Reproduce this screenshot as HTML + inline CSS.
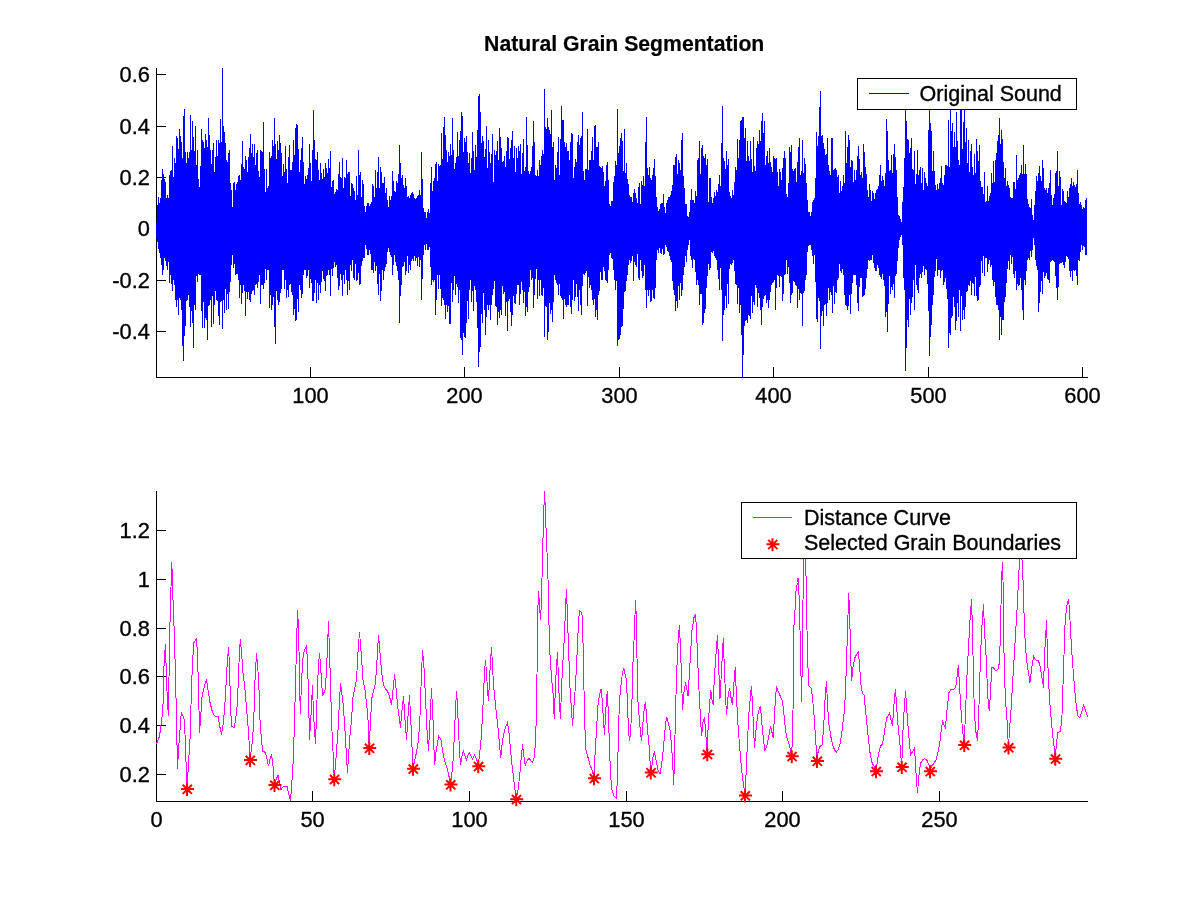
<!DOCTYPE html>
<html lang="en"><head><meta charset="utf-8"><title>Natural Grain Segmentation</title>
<style>html,body{margin:0;padding:0;background:#fff;}body{width:1201px;height:900px;overflow:hidden;}svg{display:block;}text{font-family:"Liberation Sans",Arial,Helvetica,sans-serif;fill:#000;stroke:#000;stroke-width:0.35px;}.tk{font-size:21.8px;}.ttl{font-size:21.2px;font-weight:bold;stroke-width:0.2px;}.lg{font-size:21.5px;}</style></head><body>
<svg width="1201" height="900" viewBox="0 0 1201 900">
<rect x="0" y="0" width="1201" height="900" fill="#fff"/>
<g shape-rendering="crispEdges" fill="#000"><rect x="156" y="68" width="1" height="310"/><rect x="156" y="377" width="932" height="1"/><rect x="156" y="74" width="10" height="1"/><rect x="156" y="126" width="10" height="1"/><rect x="156" y="177" width="10" height="1"/><rect x="156" y="228" width="10" height="1"/><rect x="156" y="280" width="10" height="1"/><rect x="156" y="331" width="10" height="1"/><rect x="310" y="367" width="1" height="10"/><rect x="464" y="367" width="1" height="10"/><rect x="619" y="367" width="1" height="10"/><rect x="773" y="367" width="1" height="10"/><rect x="928" y="367" width="1" height="10"/><rect x="1082" y="367" width="1" height="10"/></g>
<path shape-rendering="crispEdges" fill="#0000ff" d="M156 223V223 h1V205 h1V197 h1V203 h1V198 h1V180 h1V169 h1V174 h1V179 h1V182 h1V198 h1V195 h1V198 h1V175 h1V171 h1V170 h1V146 h1V177 h1V158 h1V163 h1V136 h1V138 h1V149 h1V129 h1V136 h1V142 h1V158 h1V116 h1V109 h1V152 h1V163 h1V152 h1V158 h1V152 h1V115 h1V150 h1V121 h1V137 h1V151 h1V126 h1V165 h1V150 h1V179 h1V187 h1V166 h1V129 h1V140 h1V142 h1V148 h1V134 h1V140 h1V147 h1V118 h1V135 h1V150 h1V164 h1V150 h1V143 h1V172 h1V157 h1V140 h1V156 h1V140 h1V143 h1V119 h1V142 h1V68 h1V126 h1V132 h1V143 h1V160 h1V162 h1V153 h1V150 h1V183 h1V190 h1V207 h1V183 h1V182 h1V190 h1V184 h1V182 h1V176 h1V175 h1V180 h1V164 h1V141 h1V167 h1V169 h1V156 h1V160 h1V172 h1V157 h1V148 h1V134 h1V153 h1V144 h1V157 h1V144 h1V165 h1V153 h1V150 h1V171 h1V177 h1V150 h1V151 h1V152 h1V122 h1V169 h1V192 h1V169 h1V188 h1V186 h1V152 h1V158 h1V156 h1V140 h1V146 h1V118 h1V144 h1V159 h1V141 h1V150 h1V135 h1V143 h1V153 h1V176 h1V164 h1V172 h1V146 h1V169 h1V183 h1V157 h1V145 h1V170 h1V170 h1V162 h1V140 h1V155 h1V128 h1V124 h1V125 h1V149 h1V172 h1V160 h1V148 h1V137 h1V162 h1V184 h1V176 h1V179 h1V175 h1V168 h1V144 h1V163 h1V181 h1V150 h1V110 h1V140 h1V159 h1V160 h1V152 h1V170 h1V180 h1V163 h1V173 h1V179 h1V169 h1V177 h1V163 h1V168 h1V173 h1V159 h1V168 h1V151 h1V187 h1V181 h1V180 h1V194 h1V192 h1V189 h1V190 h1V174 h1V162 h1V177 h1V178 h1V158 h1V188 h1V177 h1V178 h1V160 h1V174 h1V172 h1V172 h1V196 h1V183 h1V184 h1V188 h1V191 h1V200 h1V176 h1V195 h1V150 h1V175 h1V172 h1V197 h1V180 h1V184 h1V206 h1V212 h1V206 h1V203 h1V203 h1V206 h1V204 h1V202 h1V184 h1V186 h1V197 h1V170 h1V188 h1V172 h1V157 h1V188 h1V167 h1V172 h1V183 h1V183 h1V177 h1V193 h1V188 h1V200 h1V207 h1V196 h1V200 h1V196 h1V171 h1V181 h1V191 h1V192 h1V181 h1V183 h1V174 h1V145 h1V163 h1V178 h1V175 h1V185 h1V188 h1V178 h1V186 h1V197 h1V196 h1V198 h1V195 h1V193 h1V192 h1V194 h1V198 h1V199 h1V198 h1V196 h1V195 h1V190 h1V195 h1V152 h1V179 h1V208 h1V212 h1V212 h1V218 h1V212 h1V209 h1V213 h1V183 h1V167 h1V191 h1V181 h1V178 h1V164 h1V162 h1V181 h1V164 h1V166 h1V165 h1V133 h1V159 h1V127 h1V117 h1V135 h1V150 h1V162 h1V152 h1V156 h1V144 h1V155 h1V118 h1V150 h1V169 h1V163 h1V157 h1V132 h1V156 h1V140 h1V131 h1V112 h1V116 h1V152 h1V138 h1V142 h1V136 h1V152 h1V163 h1V153 h1V173 h1V158 h1V132 h1V151 h1V170 h1V145 h1V157 h1V130 h1V96 h1V94 h1V112 h1V143 h1V136 h1V141 h1V157 h1V149 h1V126 h1V168 h1V140 h1V152 h1V163 h1V154 h1V134 h1V182 h1V150 h1V155 h1V151 h1V141 h1V160 h1V128 h1V137 h1V148 h1V162 h1V161 h1V156 h1V167 h1V151 h1V137 h1V138 h1V159 h1V148 h1V140 h1V131 h1V158 h1V146 h1V172 h1V148 h1V158 h1V146 h1V151 h1V144 h1V174 h1V153 h1V139 h1V171 h1V167 h1V117 h1V145 h1V171 h1V174 h1V171 h1V167 h1V146 h1V121 h1V142 h1V175 h1V176 h1V170 h1V176 h1V160 h1V165 h1V156 h1V150 h1V154 h1V89 h1V127 h1V129 h1V118 h1V127 h1V130 h1V134 h1V110 h1V147 h1V142 h1V180 h1V165 h1V168 h1V152 h1V137 h1V175 h1V139 h1V106 h1V120 h1V120 h1V142 h1V147 h1V143 h1V151 h1V151 h1V160 h1V142 h1V133 h1V134 h1V178 h1V167 h1V159 h1V162 h1V142 h1V135 h1V145 h1V138 h1V136 h1V112 h1V171 h1V180 h1V169 h1V169 h1V129 h1V170 h1V160 h1V160 h1V151 h1V137 h1V160 h1V126 h1V125 h1V147 h1V147 h1V142 h1V166 h1V167 h1V168 h1V166 h1V172 h1V186 h1V181 h1V165 h1V162 h1V180 h1V204 h1V206 h1V201 h1V201 h1V182 h1V176 h1V161 h1V165 h1V109 h1V153 h1V146 h1V138 h1V133 h1V141 h1V171 h1V129 h1V173 h1V163 h1V179 h1V184 h1V195 h1V197 h1V197 h1V202 h1V193 h1V189 h1V193 h1V198 h1V203 h1V187 h1V183 h1V204 h1V181 h1V185 h1V176 h1V186 h1V142 h1V117 h1V168 h1V175 h1V167 h1V178 h1V180 h1V175 h1V168 h1V159 h1V176 h1V197 h1V207 h1V211 h1V209 h1V204 h1V203 h1V203 h1V194 h1V207 h1V213 h1V203 h1V200 h1V197 h1V197 h1V195 h1V191 h1V185 h1V165 h1V165 h1V157 h1V154 h1V174 h1V160 h1V163 h1V170 h1V140 h1V133 h1V176 h1V188 h1V204 h1V204 h1V216 h1V217 h1V212 h1V200 h1V189 h1V200 h1V200 h1V203 h1V191 h1V196 h1V160 h1V158 h1V141 h1V174 h1V148 h1V145 h1V156 h1V158 h1V154 h1V165 h1V159 h1V202 h1V178 h1V178 h1V197 h1V203 h1V198 h1V192 h1V196 h1V190 h1V192 h1V184 h1V175 h1V186 h1V143 h1V106 h1V158 h1V161 h1V169 h1V151 h1V165 h1V159 h1V192 h1V196 h1V198 h1V190 h1V195 h1V182 h1V167 h1V170 h1V139 h1V158 h1V140 h1V121 h1V120 h1V117 h1V117 h1V138 h1V128 h1V161 h1V141 h1V156 h1V161 h1V141 h1V159 h1V172 h1V137 h1V166 h1V171 h1V148 h1V141 h1V144 h1V130 h1V141 h1V121 h1V113 h1V133 h1V121 h1V165 h1V156 h1V151 h1V163 h1V148 h1V162 h1V167 h1V172 h1V156 h1V158 h1V159 h1V158 h1V172 h1V186 h1V169 h1V172 h1V180 h1V168 h1V158 h1V151 h1V158 h1V194 h1V197 h1V183 h1V147 h1V152 h1V145 h1V169 h1V171 h1V169 h1V168 h1V182 h1V162 h1V147 h1V138 h1V175 h1V171 h1V140 h1V173 h1V158 h1V164 h1V183 h1V200 h1V212 h1V212 h1V216 h1V212 h1V202 h1V200 h1V198 h1V178 h1V132 h1V146 h1V136 h1V107 h1V91 h1V136 h1V135 h1V143 h1V149 h1V155 h1V154 h1V138 h1V165 h1V171 h1V175 h1V138 h1V138 h1V170 h1V169 h1V168 h1V170 h1V177 h1V175 h1V193 h1V181 h1V191 h1V186 h1V175 h1V183 h1V131 h1V163 h1V147 h1V135 h1V140 h1V167 h1V160 h1V161 h1V182 h1V170 h1V180 h1V170 h1V156 h1V146 h1V159 h1V175 h1V172 h1V178 h1V144 h1V152 h1V167 h1V174 h1V190 h1V197 h1V184 h1V190 h1V201 h1V191 h1V193 h1V199 h1V193 h1V190 h1V189 h1V186 h1V175 h1V165 h1V181 h1V176 h1V180 h1V186 h1V173 h1V119 h1V131 h1V160 h1V171 h1V170 h1V155 h1V173 h1V154 h1V144 h1V157 h1V170 h1V197 h1V215 h1V216 h1V219 h1V222 h1V202 h1V187 h1V158 h1V110 h1V121 h1V139 h1V140 h1V153 h1V148 h1V138 h1V169 h1V170 h1V151 h1V184 h1V174 h1V150 h1V175 h1V170 h1V167 h1V183 h1V168 h1V190 h1V172 h1V178 h1V183 h1V186 h1V130 h1V110 h1V123 h1V131 h1V171 h1V151 h1V171 h1V185 h1V190 h1V184 h1V189 h1V183 h1V178 h1V166 h1V183 h1V185 h1V175 h1V165 h1V165 h1V166 h1V120 h1V167 h1V108 h1V131 h1V123 h1V147 h1V132 h1V147 h1V112 h1V141 h1V160 h1V165 h1V108 h1V108 h1V149 h1V122 h1V108 h1V142 h1V128 h1V163 h1V140 h1V172 h1V151 h1V144 h1V167 h1V175 h1V154 h1V173 h1V139 h1V151 h1V161 h1V145 h1V181 h1V187 h1V187 h1V194 h1V172 h1V202 h1V201 h1V186 h1V201 h1V196 h1V193 h1V173 h1V183 h1V161 h1V182 h1V160 h1V153 h1V141 h1V135 h1V118 h1V144 h1V130 h1V139 h1V162 h1V178 h1V168 h1V186 h1V181 h1V185 h1V188 h1V197 h1V198 h1V198 h1V182 h1V182 h1V189 h1V155 h1V180 h1V178 h1V175 h1V173 h1V165 h1V174 h1V145 h1V174 h1V164 h1V174 h1V199 h1V204 h1V207 h1V208 h1V199 h1V215 h1V220 h1V205 h1V191 h1V176 h1V181 h1V173 h1V166 h1V176 h1V181 h1V160 h1V168 h1V188 h1V190 h1V188 h1V193 h1V188 h1V183 h1V170 h1V195 h1V205 h1V198 h1V194 h1V173 h1V171 h1V151 h1V186 h1V171 h1V177 h1V205 h1V189 h1V191 h1V201 h1V202 h1V203 h1V191 h1V197 h1V188 h1V184 h1V178 h1V186 h1V182 h1V185 h1V187 h1V184 h1V170 h1V193 h1V204 h1V202 h1V205 h1V209 h1V207 h1V208 h1V200 h1V198 h1V255 h-1V255 h-1V247 h-1V246 h-1V250 h-1V245 h-1V252 h-1V261 h-1V260 h-1V285 h-1V276 h-1V270 h-1V271 h-1V270 h-1V281 h-1V271 h-1V277 h-1V271 h-1V259 h-1V257 h-1V256 h-1V262 h-1V268 h-1V265 h-1V262 h-1V263 h-1V263 h-1V264 h-1V287 h-1V300 h-1V288 h-1V276 h-1V262 h-1V261 h-1V260 h-1V261 h-1V262 h-1V283 h-1V280 h-1V279 h-1V273 h-1V276 h-1V278 h-1V272 h-1V294 h-1V281 h-1V292 h-1V303 h-1V312 h-1V270 h-1V266 h-1V260 h-1V245 h-1V238 h-1V250 h-1V257 h-1V251 h-1V260 h-1V258 h-1V260 h-1V271 h-1V285 h-1V280 h-1V320 h-1V310 h-1V290 h-1V278 h-1V285 h-1V286 h-1V284 h-1V290 h-1V271 h-1V278 h-1V274 h-1V257 h-1V264 h-1V255 h-1V270 h-1V261 h-1V269 h-1V283 h-1V297 h-1V302 h-1V320 h-1V320 h-1V335 h-1V317 h-1V340 h-1V310 h-1V305 h-1V305 h-1V297 h-1V282 h-1V286 h-1V280 h-1V265 h-1V267 h-1V260 h-1V264 h-1V272 h-1V258 h-1V258 h-1V276 h-1V256 h-1V273 h-1V261 h-1V285 h-1V287 h-1V300 h-1V301 h-1V296 h-1V277 h-1V296 h-1V284 h-1V283 h-1V295 h-1V281 h-1V286 h-1V285 h-1V291 h-1V292 h-1V307 h-1V319 h-1V310 h-1V320 h-1V296 h-1V331 h-1V290 h-1V317 h-1V303 h-1V321 h-1V330 h-1V307 h-1V297 h-1V316 h-1V318 h-1V335 h-1V333 h-1V348 h-1V299 h-1V289 h-1V278 h-1V282 h-1V285 h-1V270 h-1V271 h-1V278 h-1V270 h-1V270 h-1V276 h-1V259 h-1V271 h-1V277 h-1V295 h-1V305 h-1V325 h-1V337 h-1V356 h-1V311 h-1V284 h-1V270 h-1V269 h-1V275 h-1V266 h-1V272 h-1V278 h-1V274 h-1V278 h-1V293 h-1V290 h-1V285 h-1V265 h-1V310 h-1V280 h-1V297 h-1V303 h-1V315 h-1V299 h-1V327 h-1V320 h-1V348 h-1V371 h-1V290 h-1V278 h-1V245 h-1V235 h-1V237 h-1V240 h-1V248 h-1V261 h-1V274 h-1V276 h-1V298 h-1V284 h-1V290 h-1V287 h-1V294 h-1V276 h-1V304 h-1V332 h-1V312 h-1V317 h-1V286 h-1V280 h-1V274 h-1V279 h-1V277 h-1V275 h-1V268 h-1V265 h-1V271 h-1V271 h-1V268 h-1V263 h-1V255 h-1V260 h-1V260 h-1V261 h-1V260 h-1V269 h-1V278 h-1V289 h-1V295 h-1V296 h-1V297 h-1V278 h-1V278 h-1V287 h-1V311 h-1V303 h-1V285 h-1V275 h-1V275 h-1V275 h-1V283 h-1V294 h-1V314 h-1V295 h-1V306 h-1V310 h-1V306 h-1V305 h-1V295 h-1V275 h-1V269 h-1V273 h-1V271 h-1V264 h-1V278 h-1V280 h-1V293 h-1V292 h-1V304 h-1V286 h-1V313 h-1V295 h-1V292 h-1V300 h-1V288 h-1V303 h-1V316 h-1V304 h-1V305 h-1V326 h-1V311 h-1V316 h-1V349 h-1V301 h-1V298 h-1V322 h-1V319 h-1V282 h-1V255 h-1V264 h-1V256 h-1V250 h-1V245 h-1V245 h-1V246 h-1V252 h-1V275 h-1V280 h-1V291 h-1V293 h-1V326 h-1V294 h-1V293 h-1V300 h-1V289 h-1V308 h-1V286 h-1V285 h-1V282 h-1V281 h-1V293 h-1V295 h-1V303 h-1V283 h-1V267 h-1V274 h-1V260 h-1V274 h-1V275 h-1V294 h-1V301 h-1V277 h-1V276 h-1V287 h-1V276 h-1V275 h-1V288 h-1V310 h-1V280 h-1V282 h-1V283 h-1V285 h-1V292 h-1V300 h-1V308 h-1V300 h-1V303 h-1V295 h-1V296 h-1V299 h-1V307 h-1V325 h-1V310 h-1V298 h-1V293 h-1V307 h-1V288 h-1V285 h-1V305 h-1V302 h-1V313 h-1V296 h-1V319 h-1V316 h-1V315 h-1V323 h-1V320 h-1V321 h-1V326 h-1V355 h-1V378 h-1V335 h-1V305 h-1V313 h-1V288 h-1V304 h-1V285 h-1V284 h-1V271 h-1V260 h-1V263 h-1V265 h-1V264 h-1V269 h-1V304 h-1V284 h-1V308 h-1V296 h-1V310 h-1V315 h-1V341 h-1V290 h-1V268 h-1V290 h-1V279 h-1V270 h-1V260 h-1V258 h-1V256 h-1V251 h-1V253 h-1V252 h-1V268 h-1V270 h-1V264 h-1V276 h-1V288 h-1V309 h-1V313 h-1V323 h-1V325 h-1V294 h-1V294 h-1V305 h-1V285 h-1V280 h-1V285 h-1V272 h-1V260 h-1V259 h-1V268 h-1V260 h-1V256 h-1V240 h-1V245 h-1V250 h-1V262 h-1V256 h-1V267 h-1V275 h-1V290 h-1V296 h-1V283 h-1V300 h-1V286 h-1V308 h-1V301 h-1V311 h-1V295 h-1V290 h-1V281 h-1V262 h-1V260 h-1V256 h-1V252 h-1V251 h-1V247 h-1V245 h-1V254 h-1V255 h-1V249 h-1V254 h-1V253 h-1V248 h-1V253 h-1V250 h-1V260 h-1V288 h-1V299 h-1V298 h-1V290 h-1V301 h-1V302 h-1V290 h-1V296 h-1V290 h-1V308 h-1V290 h-1V265 h-1V276 h-1V278 h-1V271 h-1V260 h-1V280 h-1V278 h-1V254 h-1V267 h-1V265 h-1V262 h-1V281 h-1V256 h-1V261 h-1V263 h-1V260 h-1V265 h-1V275 h-1V281 h-1V291 h-1V292 h-1V309 h-1V326 h-1V327 h-1V335 h-1V339 h-1V340 h-1V346 h-1V281 h-1V290 h-1V280 h-1V270 h-1V259 h-1V258 h-1V253 h-1V255 h-1V270 h-1V283 h-1V281 h-1V280 h-1V271 h-1V267 h-1V280 h-1V280 h-1V272 h-1V291 h-1V295 h-1V320 h-1V310 h-1V317 h-1V299 h-1V305 h-1V300 h-1V290 h-1V285 h-1V288 h-1V277 h-1V306 h-1V271 h-1V273 h-1V275 h-1V274 h-1V286 h-1V315 h-1V305 h-1V290 h-1V311 h-1V297 h-1V284 h-1V297 h-1V301 h-1V280 h-1V300 h-1V314 h-1V307 h-1V295 h-1V305 h-1V305 h-1V307 h-1V305 h-1V299 h-1V319 h-1V300 h-1V298 h-1V296 h-1V284 h-1V295 h-1V285 h-1V283 h-1V280 h-1V275 h-1V302 h-1V322 h-1V310 h-1V314 h-1V303 h-1V332 h-1V340 h-1V307 h-1V306 h-1V337 h-1V288 h-1V296 h-1V295 h-1V280 h-1V296 h-1V280 h-1V299 h-1V269 h-1V279 h-1V295 h-1V308 h-1V278 h-1V280 h-1V270 h-1V287 h-1V292 h-1V312 h-1V307 h-1V316 h-1V292 h-1V303 h-1V290 h-1V282 h-1V294 h-1V305 h-1V285 h-1V285 h-1V294 h-1V304 h-1V303 h-1V296 h-1V315 h-1V326 h-1V312 h-1V299 h-1V301 h-1V331 h-1V302 h-1V316 h-1V292 h-1V294 h-1V286 h-1V315 h-1V310 h-1V318 h-1V312 h-1V325 h-1V307 h-1V306 h-1V281 h-1V289 h-1V295 h-1V305 h-1V320 h-1V305 h-1V310 h-1V305 h-1V317 h-1V335 h-1V310 h-1V293 h-1V323 h-1V314 h-1V347 h-1V352 h-1V367 h-1V328 h-1V302 h-1V290 h-1V286 h-1V311 h-1V291 h-1V302 h-1V280 h-1V290 h-1V319 h-1V301 h-1V323 h-1V338 h-1V337 h-1V333 h-1V355 h-1V340 h-1V338 h-1V290 h-1V303 h-1V287 h-1V284 h-1V295 h-1V276 h-1V290 h-1V302 h-1V283 h-1V324 h-1V324 h-1V306 h-1V312 h-1V305 h-1V319 h-1V305 h-1V300 h-1V298 h-1V306 h-1V289 h-1V275 h-1V289 h-1V275 h-1V300 h-1V315 h-1V280 h-1V282 h-1V280 h-1V285 h-1V267 h-1V247 h-1V250 h-1V250 h-1V244 h-1V250 h-1V245 h-1V255 h-1V279 h-1V300 h-1V260 h-1V267 h-1V257 h-1V266 h-1V258 h-1V261 h-1V256 h-1V261 h-1V259 h-1V261 h-1V270 h-1V265 h-1V273 h-1V256 h-1V271 h-1V275 h-1V262 h-1V266 h-1V267 h-1V285 h-1V296 h-1V323 h-1V280 h-1V271 h-1V266 h-1V262 h-1V255 h-1V265 h-1V275 h-1V257 h-1V255 h-1V252 h-1V248 h-1V252 h-1V264 h-1V267 h-1V271 h-1V280 h-1V270 h-1V291 h-1V301 h-1V274 h-1V295 h-1V284 h-1V266 h-1V271 h-1V262 h-1V273 h-1V270 h-1V270 h-1V254 h-1V250 h-1V255 h-1V255 h-1V249 h-1V245 h-1V258 h-1V258 h-1V261 h-1V266 h-1V284 h-1V285 h-1V273 h-1V280 h-1V281 h-1V264 h-1V280 h-1V278 h-1V260 h-1V271 h-1V265 h-1V290 h-1V281 h-1V295 h-1V280 h-1V270 h-1V284 h-1V275 h-1V296 h-1V280 h-1V274 h-1V286 h-1V290 h-1V278 h-1V265 h-1V267 h-1V262 h-1V268 h-1V276 h-1V269 h-1V296 h-1V275 h-1V270 h-1V275 h-1V276 h-1V291 h-1V281 h-1V279 h-1V271 h-1V282 h-1V293 h-1V285 h-1V300 h-1V283 h-1V303 h-1V280 h-1V293 h-1V301 h-1V301 h-1V283 h-1V279 h-1V288 h-1V270 h-1V276 h-1V278 h-1V270 h-1V270 h-1V275 h-1V294 h-1V298 h-1V290 h-1V285 h-1V312 h-1V299 h-1V320 h-1V321 h-1V309 h-1V315 h-1V295 h-1V292 h-1V284 h-1V285 h-1V297 h-1V290 h-1V298 h-1V280 h-1V289 h-1V270 h-1V270 h-1V289 h-1V293 h-1V302 h-1V305 h-1V300 h-1V291 h-1V344 h-1V327 h-1V297 h-1V305 h-1V310 h-1V295 h-1V308 h-1V270 h-1V270 h-1V280 h-1V269 h-1V283 h-1V289 h-1V285 h-1V285 h-1V304 h-1V275 h-1V282 h-1V288 h-1V284 h-1V285 h-1V295 h-1V290 h-1V291 h-1V294 h-1V302 h-1V300 h-1V292 h-1V299 h-1V292 h-1V316 h-1V291 h-1V285 h-1V293 h-1V304 h-1V285 h-1V298 h-1V280 h-1V274 h-1V274 h-1V275 h-1V264 h-1V268 h-1V255 h-1V265 h-1V282 h-1V292 h-1V309 h-1V294 h-1V310 h-1V289 h-1V313 h-1V300 h-1V329 h-1V301 h-1V302 h-1V325 h-1V316 h-1V301 h-1V300 h-1V291 h-1V305 h-1V324 h-1V296 h-1V327 h-1V300 h-1V305 h-1V306 h-1V340 h-1V320 h-1V318 h-1V328 h-1V302 h-1V328 h-1V311 h-1V275 h-1V275 h-1V274 h-1V282 h-1V276 h-1V310 h-1V305 h-1V348 h-1V323 h-1V311 h-1V327 h-1V307 h-1V295 h-1V300 h-1V301 h-1V326 h-1V336 h-1V361 h-1V346 h-1V310 h-1V300 h-1V298 h-1V315 h-1V300 h-1V307 h-1V300 h-1V285 h-1V280 h-1V291 h-1V284 h-1V275 h-1V283 h-1V262 h-1V270 h-1V266 h-1V261 h-1V258 h-1V270 h-1V275 h-1V265 h-1V258 h-1V253 h-1V249 h-1V242 h-1V238 h-1Z"/>
<g shape-rendering="crispEdges"><rect x="857.5" y="78.5" width="219" height="31" fill="#fff" stroke="#000" stroke-width="1"/><rect x="869" y="93" width="40" height="1" fill="#0000ff"/></g>
<g shape-rendering="crispEdges" fill="#000"><rect x="156" y="491" width="1" height="311"/><rect x="156" y="801" width="932" height="1"/><rect x="156" y="530" width="10" height="1"/><rect x="156" y="579" width="10" height="1"/><rect x="156" y="628" width="10" height="1"/><rect x="156" y="676" width="10" height="1"/><rect x="156" y="725" width="10" height="1"/><rect x="156" y="774" width="10" height="1"/><rect x="156" y="791" width="1" height="10"/><rect x="312" y="791" width="1" height="10"/><rect x="469" y="791" width="1" height="10"/><rect x="626" y="791" width="1" height="10"/><rect x="782" y="791" width="1" height="10"/><rect x="939" y="791" width="1" height="10"/></g>
<polyline shape-rendering="crispEdges" fill="none" stroke="#ff00ff" stroke-width="1" stroke-linejoin="miter" points="156.5,743.75 159.5,736.25 161.75,720 163,705 164.25,657.5 165.5,644.5 166.5,680 167.5,702.5 168.5,716.25 169.5,640 171,587.5 171.5,562 172.5,576 173,600 174.25,632.5 175.25,667.5 176.25,707.5 177.5,769.25 178.5,750 180,730 181.25,712.5 183,716.25 184.5,720 185.75,755 187,788.75 189,755 190.25,735 191.5,685 193,655 194,642.5 196.5,638.75 197.5,655 198.5,687.5 199.5,732.5 200.75,716.25 202,697.5 203.5,690 205,683.75 206.5,680 208,690 210,702.5 212.5,712.5 215,716.25 218,716.25 220,727.5 221.5,734.5 223,725 224.5,710 225.75,690 227,667.5 228.5,647 229.5,665 230.5,705 231.5,726.25 234.25,727.5 236,716.25 237.5,702.5 238.75,667.5 240.25,639.5 241.5,652.5 243,672.5 245,690 247.5,720 248.75,735 250,760 252.5,740 253.75,720 255,680 256.5,653.25 257.75,666.25 259,690 260,720 261.25,737.5 262.75,751.25 265.5,752.5 267,758.75 268.5,766.25 270,758.75 271.5,754.25 273,766.25 274.5,785 276.5,778.75 278,775 279.5,782.5 281,790 282.5,787.5 284.25,786.25 287,786.25 288.75,793.75 290.5,801.25 292,780 293,765 294,737.5 295,702.5 296,665 297.5,610 298.5,627.5 299.25,662.5 300.25,713.75 301.25,690 302.5,662.5 303.75,652.5 306.5,645.5 307.5,662.5 308.5,695 309.5,739.5 310.75,720 312.5,685 313.5,715 315.5,743.75 316.5,715 317.5,685 318.5,665 319.5,653.25 320.5,665 321.5,680 322.5,696.25 325,690 326.25,675 327.25,652.5 328.5,621.25 329.5,652.5 330.5,682.5 331.5,720 332.5,742.5 333.5,760 334.25,779.25 336.25,755 338,730 339.25,705 340.5,683.25 342,695 343.25,705 344.75,726.25 346.25,752.5 347.5,772.5 348.75,752.5 350,735 351.5,720 353,697.5 355,687.5 356.5,680 358,652.5 359.5,632 360.75,647.5 362,665 363,680 365,690 366.75,705 368,720 369.25,748 370.5,720 372,697.5 373.75,690 375.5,682.5 377,660 378.5,635 379.75,650 381.25,667.5 382.5,680 384.5,687.5 387.5,691.25 389.5,696.25 391.5,705 393,690 394.5,674.5 396,687.5 397.5,705 399,716.25 400.5,727.5 402,710 403.5,696.25 405,720 406.5,740 408,716.25 409.5,695.5 411,725 413,768.75 415,758.75 416.5,752.5 418.5,740 420,716.25 421.25,680 422.5,650 424,667.5 425.5,697.5 427,730 428.5,750.75 430,720 431.5,688.25 433,720 434.5,765 436,752.5 437.5,742.5 438.75,736.25 441,740 442.5,750 444.5,760 446.5,766.25 448.5,773.75 450.5,784.5 452,772.5 453.5,755 454.5,730 455.75,705 456.5,691.25 457.5,705 458.5,730 459.5,750 460.5,765 461.75,757.5 463.25,750.75 465,756.25 466.5,759.5 468,755 469.5,752.5 471,756.25 472.5,758.75 474.5,755 476.5,758.75 478.25,766.25 479.5,755 481,740 482.5,716.25 483.5,695 484.5,672.5 485.5,660 486.5,672.5 487.5,690 488.5,701.25 489.5,680 490.5,660 491.5,647.5 492.5,665 493.5,685 495,700 496.5,715 498,727.5 499.5,745 500.75,758 502,745 503.5,735 505.5,727.5 507.5,722.5 509,732.5 510.5,750 512,765 513.5,777.5 515,790 516.25,799.25 518,790 519.5,777.5 521,760 522.5,744.5 523.75,755 525.25,765 527,761.25 529,758 531,761.25 532.5,762.5 534.5,756.25 535.5,740 536.25,720 537,675 537.5,620 538.5,591.25 539.5,605 540.5,620 541.5,600 542.5,556.25 543.75,512.5 544.5,491 545.25,506 546.25,535 547.5,563.75 548.5,593.75 549,625 550,655 551.5,677.5 553,692.5 554.25,718.75 555.5,685 556.5,665 557.5,652.5 558.5,680 559.5,705 560.5,718.75 561.5,687.5 563,660 564.5,635 565.5,607.5 566.5,589.5 567.5,617.5 568.5,647.5 570,687.5 571.5,710 572.5,726.25 574,705 575.5,685 577,655 578.5,622.5 579.5,610.5 581.5,612.5 582.5,617.5 583.25,655 584,690 585,730 586,750 588,757.5 590,765 592,770 594,778.25 595,755 596.5,730 598,705 599.5,695 601,688.75 602,697.5 603,712.5 604.5,735 605.75,710 607.25,691.25 608.25,710 609.25,740 610.5,775 612,790 614,796.25 616.5,798.25 617.5,775 618.5,730 619.5,700 621,685 622.5,672.5 623.75,668 625,673.75 626.5,680 627.5,705 628.5,730 629.5,741.25 630.75,730 632,700 633,662.5 634.5,630 635.5,600.5 636.5,620 637.5,695 639,715 640.5,732.5 641.5,741.25 643,722.5 644.5,706.25 645.5,702.5 646.5,715 647.5,730 649,745 650.75,772.5 652,765 653.25,755 654.5,752 656,760 658,770 660,773.75 661.5,765 663,752.5 664.5,735 665.75,722.5 666.75,717 668.25,722.5 670,730 671.5,745 672.75,765 673.75,784.5 674.5,755 675.25,725 676,695 677,665 678.25,637.5 679.5,625.5 680.5,650 681.5,675 682.5,710 684,692.5 685.5,682.5 687,690 688,696.25 689,680 690.5,655 692,630 694,617.5 695.5,614.25 696.5,630 697.5,655 698.5,680 699.5,700 700.5,717.5 701.5,736.25 703,722.5 704.5,717 705.5,730 707.25,754.25 708,730 709.5,705 710.75,690 712,700 713.25,704.5 714,685 715.5,660 717.5,635.5 718.5,662.5 720,698.75 721.25,675 722.5,652.5 723.25,638 724.25,665 725.5,695 726.5,715 728,697.5 729.5,688 731,697.5 732.5,705 733.75,685 735.25,667.5 736.5,697.5 738,725 739.5,745 741,762.5 742.5,777.5 745,795.5 746.5,765 747.5,740 749,712.5 750.5,695 751.5,685.75 752.5,705 753.5,727.5 754.5,747.5 756,730 757.5,716.25 759,710 760.5,706.25 762,725 763.5,740 764.75,750 766.5,747.5 768,740 769.5,732.5 770.5,726.25 772,732.5 773.25,737.5 774.25,720 775.5,697.5 776.5,686.25 778,691.25 780,695.5 782.5,701.25 784,715 785.5,730 787.5,740 789.5,745 791.75,756.25 792.5,730 793.25,700 794,625 795,610 796,591.25 797.5,582.5 798,578 799,595 799.75,617.5 800.5,655 801.25,685 801.75,701.75 802.5,630 803.25,585 804,557.5 804.75,545 805.5,557.5 806.25,585 807,630 808,667.5 809,686.25 811,688 812.5,697.5 814,715 815,730 816,745 817,761 818,752.5 820,746.25 822,745 823,735 824,720 825,700 826.5,681.25 827.5,705 829,725 831,737.5 833,746.25 835,750.5 836.5,752 838,750 840,743.75 841.5,735 843,722.5 844.5,710 845.5,690 846.5,662.5 847.5,630 848.75,593 849.75,617.5 850.5,650 851.5,681.25 853,667.5 855,657.5 857,653.75 858.5,651.75 859.5,665 861,685 862.5,693.75 864,695 865.5,710 867,725 868.5,740 870,752.5 872,762.5 874,766.25 876,771.25 877.5,760 879,752.5 880.5,746.25 882.5,743.75 884,735 885.5,725 887,717.5 888.5,715 889.5,713 891,720 892.5,726.25 893.5,710 894.5,697.5 895.5,689.25 896.5,705 898,725 900,745 901.75,767 902.5,740 903.5,720 904.5,705 905.5,691.25 906.5,705 907.5,720 909,737.5 910.5,755 912,752.5 913.5,750 914.5,747.5 915.5,765 916.5,780 917.5,793.25 918.5,780 919.5,770 921,762.5 923,759.5 925,758.75 927,760.5 929,765 930,771.25 931.5,766.25 933.5,763.75 936,760 938,752.5 939.5,745 941,732.5 942.5,721.25 944,725 945.5,727.5 946.5,715 947.5,705 949,692.5 950.5,690 952.5,689.25 954.5,689 956,685 957,677.5 958.25,665.5 959.5,685 961,710 962.5,730 964.25,745 965,725 966,700 967,675 968.5,647.5 970,620 971.5,599.5 972.5,630 973.5,680 974.5,715 976,732.5 977.5,741.25 978.5,720 979.5,690 980.5,655 982,625 983.5,603.75 984.5,630 986,655 987.5,690 988.5,707.5 989.5,711.25 990.5,690 992,667.5 993.5,668 996,671.25 998,668.75 999.5,662.5 1000.5,630 1001.5,580 1002.5,562 1003,580 1003.5,630 1004.5,675 1005.5,700 1007,720 1008.5,747.5 1009.5,730 1011,710 1012.5,685 1014,660 1015.5,635 1017,610 1018.5,580 1019.5,560 1020.75,545 1022,560 1023,580 1024,612.5 1025,637.5 1026.5,660 1028,670 1030,682.5 1031.5,670 1033.5,656.25 1035.5,660 1038.5,660.5 1040,666.25 1042,677.5 1043.5,687.5 1044.5,655 1045.5,640 1046.5,620 1047.5,655 1048.5,680 1050,705 1051.5,722.5 1053,737.5 1054.5,750 1055.25,758.75 1056.5,742.5 1058,732.5 1060.5,731.25 1062,715 1063,685 1064,655 1065,625 1066.5,607.5 1068.5,598.75 1069.5,610 1070.5,630 1072,655 1073.5,675 1075,692.5 1076.5,707.5 1078,716.25 1080,717.5 1082,711.25 1083.5,705 1085,708.75 1086.5,713.75 1088,717"/>
<path fill="none" stroke="#ff0000" stroke-width="2" d="M181 789H194M187 783V796M182.7 784.7L191.9 793.9M182.7 793.9L191.9 784.7M244 760H257M250 754V767M245.7 755.7L254.9 764.9M245.7 764.9L254.9 755.7M268.5 785H281.5M274.5 779V792M270.2 780.7L279.4 789.9M270.2 789.9L279.4 780.7M328.25 779.25H341.25M334.25 773.25V786.25M329.95 774.95L339.15 784.15M329.95 784.15L339.15 774.95M363.25 748H376.25M369.25 742V755M364.95 743.7L374.15 752.9M364.95 752.9L374.15 743.7M407 768.75H420M413 762.75V775.75M408.7 764.45L417.9 773.65M408.7 773.65L417.9 764.45M444.5 784.5H457.5M450.5 778.5V791.5M446.2 780.2L455.4 789.4M446.2 789.4L455.4 780.2M472.25 766.25H485.25M478.25 760.25V773.25M473.95 761.95L483.15 771.15M473.95 771.15L483.15 761.95M510.25 799.25H523.25M516.25 793.25V806.25M511.95 794.95L521.15 804.15M511.95 804.15L521.15 794.95M588 778.25H601M594 772.25V785.25M589.7 773.95L598.9 783.15M589.7 783.15L598.9 773.95M644.75 772.5H657.75M650.75 766.5V779.5M646.45 768.2L655.65 777.4M646.45 777.4L655.65 768.2M701.25 754.25H714.25M707.25 748.25V761.25M702.95 749.95L712.15 759.15M702.95 759.15L712.15 749.95M739 795.5H752M745 789.5V802.5M740.7 791.2L749.9 800.4M740.7 800.4L749.9 791.2M785.75 756.25H798.75M791.75 750.25V763.25M787.45 751.95L796.65 761.15M787.45 761.15L796.65 751.95M811 761H824M817 755V768M812.7 756.7L821.9 765.9M812.7 765.9L821.9 756.7M870 771.25H883M876 765.25V778.25M871.7 766.95L880.9 776.15M871.7 776.15L880.9 766.95M895.75 767H908.75M901.75 761V774M897.45 762.7L906.65 771.9M897.45 771.9L906.65 762.7M924 771.25H937M930 765.25V778.25M925.7 766.95L934.9 776.15M925.7 776.15L934.9 766.95M958.25 745H971.25M964.25 739V752M959.95 740.7L969.15 749.9M959.95 749.9L969.15 740.7M1002.5 747.5H1015.5M1008.5 741.5V754.5M1004.2 743.2L1013.4 752.4M1004.2 752.4L1013.4 743.2M1049.25 758.75H1062.25M1055.25 752.75V765.75M1050.95 754.45L1060.15 763.65M1050.95 763.65L1060.15 754.45"/>
<g shape-rendering="crispEdges"><rect x="741.5" y="502.5" width="335" height="56" fill="#fff" stroke="#000" stroke-width="1"/><rect x="753" y="517" width="39" height="1" fill="#ff00ff"/></g>
<path fill="none" stroke="#ff0000" stroke-width="2" d="M766.5 544.2H779.5M772.5 538.2V551.2M768.2 539.9L777.4 549.1M768.2 549.1L777.4 539.9"/>
<g style="filter:grayscale(1)"><text class="ttl" x="624.2" y="51.4" text-anchor="middle">Natural Grain Segmentation</text><text class="tk" x="149.9" y="82" text-anchor="end">0.6</text><text class="tk" x="149.9" y="134" text-anchor="end">0.4</text><text class="tk" x="149.9" y="185" text-anchor="end">0.2</text><text class="tk" x="149.9" y="236" text-anchor="end">0</text><text class="tk" x="149.9" y="288" text-anchor="end">-0.2</text><text class="tk" x="149.9" y="339" text-anchor="end">-0.4</text><text class="tk" x="310.5" y="402.7" text-anchor="middle">100</text><text class="tk" x="464.5" y="402.7" text-anchor="middle">200</text><text class="tk" x="619.5" y="402.7" text-anchor="middle">300</text><text class="tk" x="773.5" y="402.7" text-anchor="middle">400</text><text class="tk" x="928.5" y="402.7" text-anchor="middle">500</text><text class="tk" x="1082.5" y="402.7" text-anchor="middle">600</text><text class="lg" x="919.6" y="100.5">Original Sound</text><text class="tk" x="149.9" y="538" text-anchor="end">1.2</text><text class="tk" x="149.9" y="587" text-anchor="end">1</text><text class="tk" x="149.9" y="636" text-anchor="end">0.8</text><text class="tk" x="149.9" y="684" text-anchor="end">0.6</text><text class="tk" x="149.9" y="733" text-anchor="end">0.4</text><text class="tk" x="149.9" y="782" text-anchor="end">0.2</text><text class="tk" x="156.5" y="827" text-anchor="middle">0</text><text class="tk" x="312.5" y="827" text-anchor="middle">50</text><text class="tk" x="469.5" y="827" text-anchor="middle">100</text><text class="tk" x="626.5" y="827" text-anchor="middle">150</text><text class="tk" x="782.5" y="827" text-anchor="middle">200</text><text class="tk" x="939.5" y="827" text-anchor="middle">250</text><text class="lg" x="804" y="524.5">Distance Curve</text><text class="lg" x="804" y="549.5">Selected Grain Boundaries</text></g>
</svg></body></html>
